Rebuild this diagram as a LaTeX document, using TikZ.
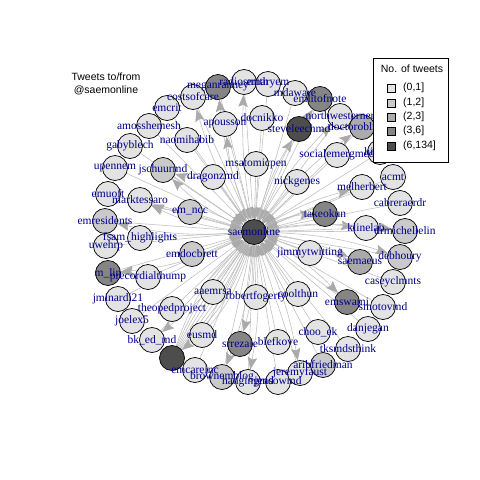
\documentclass[tikz,border=0pt]{standalone}
\usepackage{fontspec}
\setmainfont{Liberation Serif}
\newfontfamily\lsans{Liberation Sans}
\usetikzlibrary{arrows.meta}
\pgfdeclarelayer{background}
\pgfdeclarelayer{bottom}
\pgfsetlayers{bottom,background,main}
\definecolor{cA}{HTML}{E3E3E3}
\definecolor{cB}{HTML}{CACACA}
\definecolor{cC}{HTML}{ABABAB}
\definecolor{cD}{HTML}{858585}
\definecolor{cE}{HTML}{4D4D4D}
\definecolor{labc}{HTML}{00008B}
\definecolor{edgec}{HTML}{BEBEBE}
\definecolor{arrc}{HTML}{AAAAAA}
\begin{document}
\begin{tikzpicture}[x=1pt,y=-1pt,
  vtx/.style={circle,draw=black,line width=0.7pt,minimum size=25pt,inner sep=0pt},
  lab/.style={text=labc,font=\fontsize{11.5}{12}\selectfont,inner sep=0pt},
  edge/.style={draw=edgec,line width=0.55pt},
  arr/.style={-{Stealth[length=12pt,width=9.5pt,inset=2pt,color=arrc]}},
  legt/.style={font=\lsans\fontsize{10.5}{12.5}\selectfont,inner sep=0pt},
  legbox/.style={draw=black,line width=0.5pt,minimum size=8pt,inner sep=0pt}]
\useasboundingbox (0,0) rectangle (480,480);
\begin{pgfonlayer}{bottom}
\fill[white] (0,0) rectangle (480,480);
\end{pgfonlayer}
% vertices
\foreach \n/\x/\y/\c in {
 sae/254/232/E, meganranney/218/87/D, radiosmith/244/82/A, emaryem/268/84/A,
 mdaware/295/93/A, emlitofnote/320/99/D, northwesterner/340/116/A,
 doctoroblivion/362/127/C, steveleechmd/299/129/E, socialemergmed/337/155/A,
 hildact/380/152/A, docnikko/262/118/A, apousson/225/124/A, costsofcare/193/97/A,
 emcrit/167/108/A, amosshemesh/149/126/A, naomihabib/187/140/A, gabyblech/130/146/A,
 upennem/115/168/A, jschuurmd/163/170/B, dragonzmd/213/177/A, msatomicpen/256/164/A,
 nickgenes/297/182/A, emncc/190/212/B, marktessaro/140/200/A, emuoft/108/194/A,
 emresidents/105/221/B, fsamhighlights/140/238/A, uwehrp/106/246/A, mlin/108/273/D,
 precordialthump/148/277/A, emdocbrett/192/254/B, jminardi/118/299/A,
 theopedproject/172/309/A, joelex/132/321/A, bkedmd/152/340/A, darkone/172/358/E,
 eusmd/202/335/A, aaemrsa/213/292/A, robertfogerty/256/297/A, srrezaie/240/344/D,
 blefkove/278/342/A, emcareinc/195/370/A, brownemblog/222/377/B, hangingmd/248/382/A,
 sowmd/278/382/A, jeremyfaust/300/373/A, aribfriedman/323/365/B, chooek/318/332/A,
 tksmdsthink/348/349/A, danjegan/368/329/A, emswami/347/302/D, smotovmd/383/307/A,
 caseyclmnts/393/282/A, coolthun/298/294/A, saemaeus/360/262/C, jimmytwitting/310/253/A,
 debhoury/400/257/B, drmichellelin/405/231/B, klinelab/366/228/A, cabreraerdr/400/203/A,
 acmt/393/177/A, melherbert/362/187/A, takeokun/325/214/D}
  \node[vtx,fill=c\c] (\n) at (\x,\y) {};
% edges
\begin{pgfonlayer}{background}
\foreach \n in {meganranney,radiosmith,emaryem,mdaware,emlitofnote,northwesterner,
 doctoroblivion,steveleechmd,socialemergmed,hildact,docnikko,apousson,costsofcare,
 emcrit,amosshemesh,naomihabib,gabyblech,upennem,jschuurmd,dragonzmd,msatomicpen,
 nickgenes,emncc,marktessaro,emuoft,emresidents,fsamhighlights,uwehrp,mlin,
 precordialthump,emdocbrett,jminardi,theopedproject,joelex,bkedmd,eusmd,aaemrsa,
 robertfogerty,srrezaie,blefkove,emcareinc,brownemblog,hangingmd,sowmd,jeremyfaust,
 aribfriedman,chooek,tksmdsthink,danjegan,emswami,smotovmd,caseyclmnts,coolthun,
 saemaeus,jimmytwitting,debhoury,drmichellelin,klinelab,cabreraerdr,acmt,melherbert,takeokun}
  \draw[edge,arr] (\n) -- (sae);
\foreach \n/\b in {meganranney/8,radiosmith/6,costsofcare/8,steveleechmd/8,emlitofnote/8,
 northwesterner/8,doctoroblivion/8,jschuurmd/10,melherbert/8,klinelab/8,drmichellelin/8,
 debhoury/8,saemaeus/8,emswami/8,mlin/10,srrezaie/8,brownemblog/8,hangingmd/8,
 jeremyfaust/8,bkedmd/8,takeokun/12,apousson/8,emresidents/8,marktessaro/10}
  \draw[edge,arr] (sae) to[bend left=\b] (\n);
\foreach \b in {-14,-10,-6,-2,2,6,10,14}
  \draw[edge] (sae) to[bend left=\b] (darkone);
\draw[edge,arr] (sae) to[bend left=18] (darkone);
\draw[edge,arr] (dragonzmd) to[bend left=10] (jschuurmd);
\draw[edge,arr] (emncc) to[bend left=8] (marktessaro);
\draw[edge,arr] (precordialthump) to[bend right=8] (mlin);
\end{pgfonlayer}
% labels
\foreach \n/\t in {
 sae/saemonline, meganranney/meganranney, radiosmith/radiosmith, emaryem/emaryem,
 mdaware/mdaware, emlitofnote/emlitofnote, northwesterner/northwesterner,
 doctoroblivion/doctoroblivion, steveleechmd/steveleechmd, socialemergmed/socialemergmed,
 hildact/hildact, docnikko/docnikko, apousson/apousson, costsofcare/costsofcare,
 emcrit/emcrit, amosshemesh/amosshemesh, naomihabib/naomihabib, gabyblech/gabyblech,
 upennem/upennem, jschuurmd/jschuurmd, dragonzmd/dragonzmd, msatomicpen/msatomicpen,
 nickgenes/nickgenes, emncc/em\_ncc, marktessaro/marktessaro, emuoft/emuoft,
 emresidents/emresidents, fsamhighlights/fsam\_highlights, uwehrp/uwehrp, mlin/m\_lin,
 precordialthump/precordialthump, emdocbrett/emdocbrett, jminardi/jminardi21,
 theopedproject/theopedproject, joelex/joelex5, bkedmd/bk\_ed\_md,
 eusmd/eusmd, aaemrsa/aaemrsa, robertfogerty/robertfogerty, srrezaie/srrezaie,
 blefkove/blefkove, emcareinc/emcareinc, brownemblog/brownemblog, hangingmd/hangingmd,
 sowmd/jensowmd, jeremyfaust/jeremyfaust, aribfriedman/aribfriedman, chooek/choo\_ek,
 tksmdsthink/tksmdsthink, danjegan/danjegan, emswami/emswami, smotovmd/smotovmd,
 caseyclmnts/caseyclmnts, coolthun/coolthun, saemaeus/saemaeus, jimmytwitting/jimmytwitting,
 debhoury/debhoury, drmichellelin/drmichellelin, klinelab/klinelab, cabreraerdr/cabreraerdr,
 acmt/acmt, melherbert/melherbert, takeokun/takeokun}
  \node[lab] at (\n.center) {\t};
% title
\node[legt,align=center] (title) at (106,84) {Tweets to/from\\@saemonline};
% legend
\node[draw=black,line width=0.5pt,fill=white,minimum width=75pt,minimum height=104pt,inner sep=0pt] (legend) at (410.5,110) {};
\node[legt] (legtitle) at (412,69) {No. of tweets};
\foreach \c/\t/\y in {A/{(0,1]}/88, B/{(1,2]}/103, C/{(2,3]}/117, D/{(3,6]}/131, E/{(6,134]}/146}{
  \node[legbox,fill=c\c] (lb\c) at (391,\y) {};
  \node[legt,anchor=west] (lt\c) at (403,\y) {\t};
}
\end{tikzpicture}
\end{document}
